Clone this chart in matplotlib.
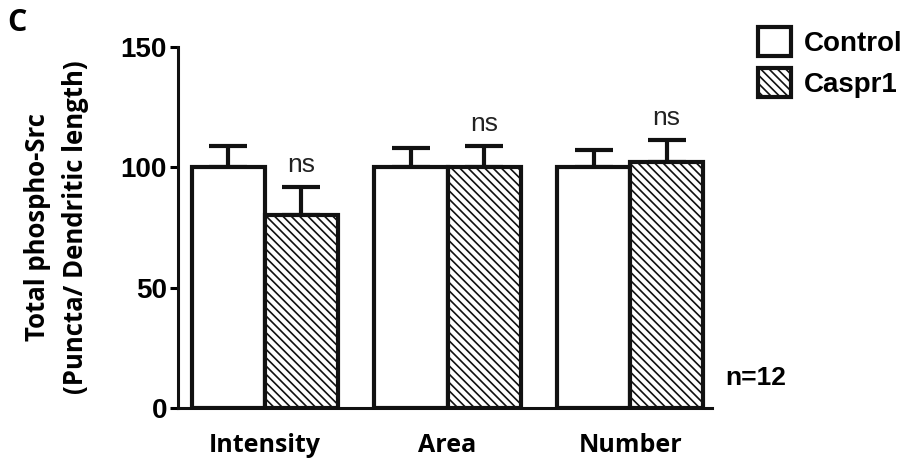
import numpy as np
import matplotlib
matplotlib.use("Agg")
import matplotlib.pyplot as plt
from matplotlib.patches import Patch

plt.rcParams['hatch.linewidth'] = 1.2

categories = ['Intensity', 'Area', 'Number']
control_mean = [100, 100, 100]
control_err = [9, 8, 7]
caspr_mean = [80, 100, 102]
caspr_err = [12, 9, 9.5]
groups = ['Control', 'Caspr1']

fig = plt.figure(figsize=(9.04, 4.68), dpi=100)
ax = fig.add_axes([0.197, 0.128, 0.591, 0.772])

x = np.arange(len(categories))
w = 0.4
lw = 3

ax.bar(x - w / 2, control_mean, w, color='white', edgecolor='#111111', linewidth=lw, zorder=3)
ax.bar(x + w / 2, caspr_mean, w, color='white', edgecolor='#111111', linewidth=lw,
       hatch='\\\\\\\\', zorder=3)

for xs, m, e in [(x - w / 2, control_mean, control_err), (x + w / 2, caspr_mean, caspr_err)]:
    ax.errorbar(xs, m, yerr=[np.zeros(len(e)), e], fmt='none', ecolor='#111111',
                elinewidth=lw, capsize=14, capthick=lw, zorder=2)

for xi, m, e in zip(x + w / 2, caspr_mean, caspr_err):
    ax.text(xi, m + e + 4, 'ns', ha='center', va='bottom', fontsize=19,
            family='Liberation Sans', color='#222222')

ax.set_xlim(-0.475, 2.45)
ax.set_ylim(0, 150)
ax.set_yticks([0, 50, 100, 150])
ax.set_xticks(x)
ax.set_xticklabels(categories, fontsize=18, fontweight='bold', family='Open Sans')
for lab in ax.get_yticklabels():
    lab.set_fontsize(20)
    lab.set_fontweight('bold')
    lab.set_family('Liberation Sans')

for s in ['top', 'right']:
    ax.spines[s].set_visible(False)
for s in ['left', 'bottom']:
    ax.spines[s].set_linewidth(2.2)
    ax.spines[s].set_color('#111111')
ax.tick_params(axis='y', length=6, width=2.2, pad=2)
ax.tick_params(axis='x', length=0, pad=18)

ax.set_ylabel('Total phospho-Src\n(Puncta/ Dendritic length)', fontsize=18.5,
              fontweight='bold', family='Open Sans', labelpad=23, linespacing=1.5)

handles = [Patch(facecolor='white', edgecolor='#111111', linewidth=lw),
           Patch(facecolor='white', edgecolor='#111111', linewidth=lw, hatch='\\\\\\\\')]
fig.legend(handles, groups, loc='upper left', bbox_to_anchor=(0.826, 0.965),
           frameon=False, prop={'family': 'Liberation Sans', 'weight': 'bold', 'size': 20},
           handlelength=1.2, handleheight=1.2, handletextpad=0.45, labelspacing=0.4,
           borderaxespad=0)

fig.text(0.802, 0.192, 'n=12', fontsize=19, fontweight='bold', family='Liberation Sans',
         ha='left', va='center')
fig.text(0.008, 0.95, 'C', fontsize=22, fontweight='bold', family='Open Sans',
         ha='left', va='center')

fig.savefig('out.png', dpi=100)
